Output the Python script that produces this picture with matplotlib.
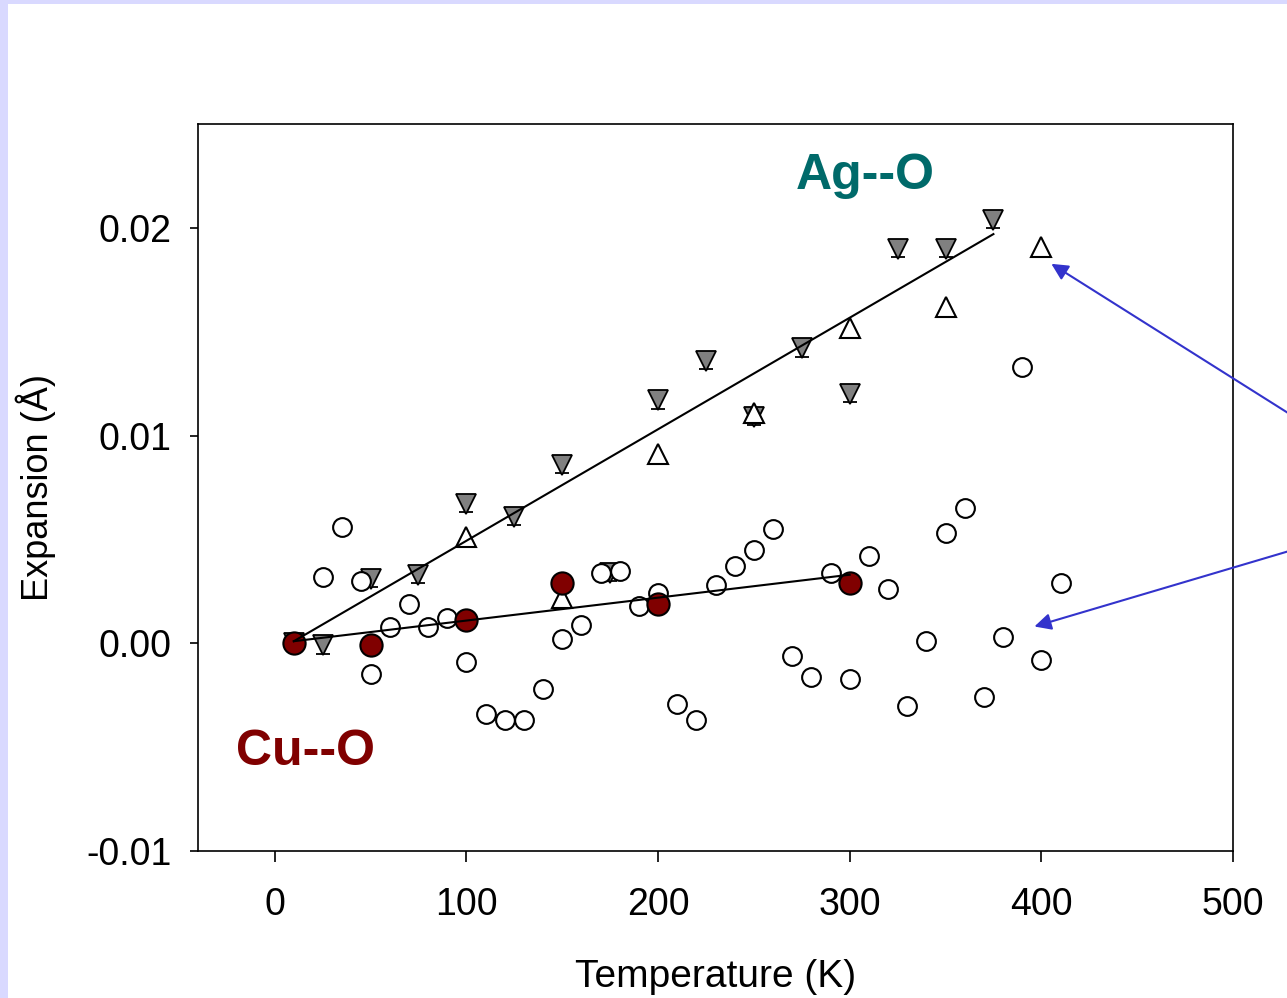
import matplotlib.pyplot as plt
from matplotlib.patches import Rectangle

# Ag--O, filled down triangles (with small error bars)
ag_fill_t = [10, 25, 50, 75, 100, 125, 150, 175, 200, 225, 250, 275, 300, 325, 350, 375]
ag_fill_e = [0.0000, -0.0001, 0.0031, 0.0033, 0.0067, 0.0061, 0.0086, 0.0034,
             0.0117, 0.0136, 0.0109, 0.0142, 0.0120, 0.0190, 0.0190, 0.0204]
ag_fill_err = 0.0004

# Ag--O, open up triangles
ag_open_t = [100, 150, 200, 250, 300, 350, 400]
ag_open_e = [0.0051, 0.0022, 0.0091, 0.0111, 0.0152, 0.0162, 0.0191]

# Cu--O, filled circles
cu_fill_t = [10, 50, 100, 150, 200, 300]
cu_fill_e = [0.0000, -0.0001, 0.0011, 0.0029, 0.0019, 0.0029]

# Cu--O, open circles
cu_open_t = [25, 35, 45, 50, 60, 70, 80, 90, 100, 110, 120, 130, 140, 150, 160,
             170, 180, 190, 200, 210, 220, 230, 240, 250, 260, 270, 280, 290,
             300, 310, 320, 330, 340, 350, 360, 370, 380, 390, 400, 410]
cu_open_e = [0.0032, 0.0056, 0.0030, -0.0015, 0.0008, 0.0019, 0.0008, 0.0012,
             -0.0009, -0.0034, -0.0037, -0.0037, -0.0022, 0.0002, 0.0009, 0.0034,
             0.0035, 0.0018, 0.0024, -0.0029, -0.0037, 0.0028, 0.0037, 0.0045,
             0.0055, -0.0006, -0.0016, 0.0034, -0.0017, 0.0042, 0.0026, -0.0030,
             0.0001, 0.0053, 0.0065, -0.0026, 0.0003, 0.0133, -0.0008, 0.0029]

# linear fits
ag_fit_t = [10, 375]
ag_fit_e = [0.0001, 0.0197]
cu_fit_t = [10, 300]
cu_fit_e = [0.0001, 0.0033]

plt.rcParams['font.family'] = ['Liberation Sans', 'DejaVu Sans']

fig = plt.figure(figsize=(12.87, 9.98), dpi=100)
# lavender slide border
fig.patches.append(Rectangle((0, 0), 8 / 1287, 1, transform=fig.transFigure,
                             facecolor='#D9D9FF', edgecolor='none', zorder=0))
fig.patches.append(Rectangle((0, 1 - 4 / 998), 1, 4 / 998, transform=fig.transFigure,
                             facecolor='#D9D9FF', edgecolor='none', zorder=0))

ax = fig.add_axes([198 / 1287, 1 - 851 / 998, 1035 / 1287, 727 / 998])

ax.errorbar(ag_fill_t, ag_fill_e, yerr=ag_fill_err, fmt='v', ms=15, mfc='#808080',
            mec='black', mew=1.3, ecolor='black', elinewidth=1.2, capsize=5,
            capthick=1.2, zorder=3)
ax.plot(ag_open_t, ag_open_e, '^', ms=14, mfc='white', mec='black', mew=1.5, zorder=4)
ax.plot(cu_open_t, cu_open_e, 'o', ms=13.5, mfc='white', mec='black', mew=1.5, zorder=4)
ax.plot(cu_fill_t, cu_fill_e, 'o', ms=16, mfc='#800000', mec='black', mew=1.5, zorder=5)

ax.plot(ag_fit_t, ag_fit_e, color='black', lw=1.5, zorder=6)
ax.plot(cu_fit_t, cu_fit_e, color='black', lw=1.5, zorder=6)

ax.text(308, 0.02248, 'Ag--O', color='#006A6A', fontsize=36, fontweight='bold',
        ha='center', va='center')
ax.text(16, -0.00525, 'Cu--O', color='#800000', fontsize=36, fontweight='bold',
        ha='center', va='center')

arrow = dict(arrowstyle='-|>', color='#3333CC', lw=1.5, mutation_scale=25)
ax.annotate('', xy=(404, 0.01834), xytext=(534, 0.01078), arrowprops=arrow,
            annotation_clip=False)
ax.annotate('', xy=(395, 0.00077), xytext=(534, 0.00457), arrowprops=arrow,
            annotation_clip=False)

ax.set_xlim(-40, 500)
ax.set_ylim(-0.01, 0.025)
ax.set_xticks([0, 100, 200, 300, 400, 500])
ax.set_yticks([-0.01, 0.0, 0.01, 0.02])
ax.set_yticklabels(['-0.01', '0.00', '0.01', '0.02'])
ax.tick_params(axis='x', direction='out', length=8, width=1.2, labelsize=27, pad=18)
ax.tick_params(axis='y', direction='out', length=6, width=1.2, labelsize=27, pad=13)
for s in ax.spines.values():
    s.set_linewidth(1.2)

ax.set_xlabel('Temperature (K)', fontsize=28, labelpad=26)
ax.set_ylabel('Expansion (Å)', fontsize=26, labelpad=22)

fig.savefig('out.png', dpi=100)
